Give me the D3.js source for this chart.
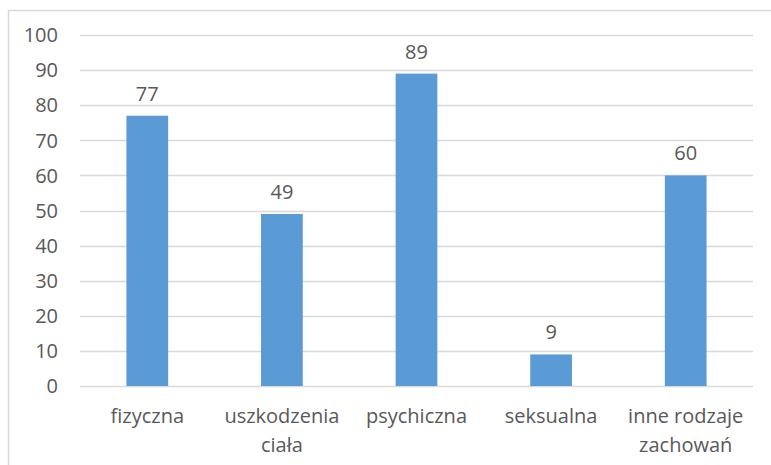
<!DOCTYPE html>
<html>
<head>
<meta charset="utf-8">
<script src="https://cdn.jsdelivr.net/npm/d3@7"></script>
<style>
  body { margin: 0; background: #fff; }
  svg text { font-family: "Open Sans", "Noto Sans", sans-serif; fill: #595959; }
</style>
</head>
<body>
<svg id="chart" width="771" height="465"></svg>
<script>
// chart data
const categories = [["fizyczna"], ["uszkodzenia", "ciała"], ["psychiczna"], ["seksualna"], ["inne rodzaje", "zachowań"]];
const values = [77, 49, 89, 9, 60];
const yTicks = [0, 10, 20, 30, 40, 50, 60, 70, 80, 90, 100];

const svg = d3.select('#chart');
const plot = {left: 80, right: 753, top: 35, bottom: 386};

// outer frame, cropped at right and bottom like the original
svg.append('rect')
    .attr('x', 8.5).attr('y', 10.5)
    .attr('width', 800).attr('height', 500)
    .attr('fill', 'none')
    .attr('stroke', '#d9d9d9')
    .attr('stroke-width', 1.5);

const x = d3.scaleBand()
    .domain(d3.range(values.length))
    .range([plot.left, plot.right])
    .paddingInner(0.69)
    .paddingOuter(0.345);

const y = d3.scaleLinear().domain([0, 100]).range([plot.bottom, plot.top]);

// gridlines
svg.append('g')
    .selectAll('line')
    .data(yTicks)
    .enter()
    .append('line')
    .attr('x1', plot.left).attr('x2', plot.right)
    .attr('y1', d => Math.round(y(d)) + 0.5)
    .attr('y2', d => Math.round(y(d)) + 0.5)
    .attr('stroke', '#d9d9d9')
    .attr('stroke-width', 1.3);

// y tick labels
svg.append('g')
    .selectAll('text')
    .data(yTicks)
    .enter()
    .append('text')
    .attr('x', 58)
    .attr('y', d => y(d))
    .attr('dy', '0.36em')
    .attr('text-anchor', 'end')
    .style('font-size', '20px')
    .text(d => d);

// bars
svg.append('g')
    .selectAll('rect')
    .data(values)
    .enter()
    .append('rect')
    .attr('x', (d, i) => x(i))
    .attr('y', d => y(d))
    .attr('width', x.bandwidth())
    .attr('height', d => y(0) - y(d))
    .attr('fill', '#5b9bd5');

// value labels
svg.append('g')
    .selectAll('text')
    .data(values)
    .enter()
    .append('text')
    .attr('x', (d, i) => x(i) + x.bandwidth() / 2)
    .attr('y', d => y(d) - 15)
    .attr('text-anchor', 'middle')
    .style('font-size', '20px')
    .text(d => d);

// category labels (may wrap to two lines)
const cat = svg.append('g')
    .selectAll('text')
    .data(categories)
    .enter()
    .append('text')
    .attr('x', (d, i) => x(i) + x.bandwidth() / 2)
    .attr('y', 423)
    .attr('text-anchor', 'middle')
    .style('font-size', '20px');

cat.selectAll('tspan')
    .data(d => d)
    .enter()
    .append('tspan')
    .attr('x', function () { return d3.select(this.parentNode).attr('x'); })
    .attr('dy', (d, j) => j === 0 ? 0 : 29)
    .text(d => d);
</script>
</body>
</html>
